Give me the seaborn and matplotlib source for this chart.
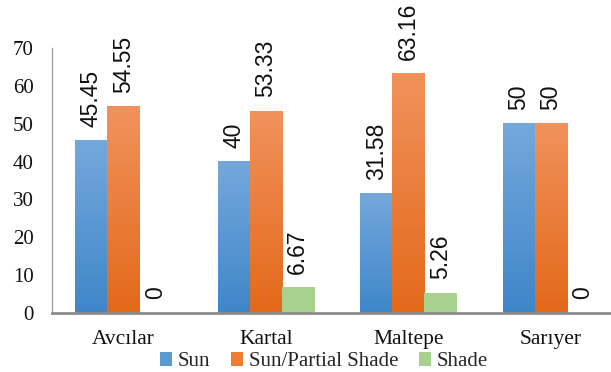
import numpy as np
import pandas as pd
import matplotlib
matplotlib.use("Agg")
import matplotlib.pyplot as plt
import seaborn as sns
from matplotlib.colors import LinearSegmentedColormap
from matplotlib.patches import Patch

districts = ["Avcılar", "Kartal", "Maltepe", "Sarıyer"]
series_names = ["Sun", "Sun/Partial Shade", "Shade"]
sun = [45.45, 40, 31.58, 50]
sun_partial = [54.55, 53.33, 63.16, 50]
shade = [0, 6.67, 5.26, 0]
y_ticks = [0, 10, 20, 30, 40, 50, 60, 70]

df = pd.DataFrame({
    "district": districts * 3,
    "exposure": [series_names[0]] * 4 + [series_names[1]] * 4 + [series_names[2]] * 4,
    "value": sun + sun_partial + shade,
})

# top colour, bottom colour for each series
grad = {
    "Sun": ("#74a8dc", "#3f86c9"),
    "Sun/Partial Shade": ("#f1925c", "#e3691a"),
    "Shade": ("#a9d18e", "#a9d18e"),
}
flat = {"Sun": "#5b9bd5", "Sun/Partial Shade": "#ed7d31", "Shade": "#a9d18e"}

sns.set_theme(style="white")
plt.rcParams["font.family"] = ["Liberation Serif", "DejaVu Serif"]

fig = plt.figure(figsize=(6.11, 3.72), dpi=100)
ax = fig.add_axes([0.0851, 0.1586, 0.933, 0.7125])

sns.barplot(data=df, x="district", y="value", hue="exposure",
            hue_order=series_names, palette=flat, width=0.675,
            legend=False, ax=ax, saturation=1)

# vertical gradient fills on each bar
for cont, name in zip(ax.containers, series_names):
    cmap = LinearSegmentedColormap.from_list(name, [grad[name][1], grad[name][0]])
    g = np.linspace(0, 1, 256).reshape(-1, 1)
    for p in cont.patches:
        x0, y0 = p.get_x(), p.get_y()
        w, h = p.get_width(), p.get_height()
        if h > 0:
            ax.imshow(g, extent=[x0, x0 + w, y0, y0 + h], origin="lower",
                      cmap=cmap, aspect="auto", zorder=2, interpolation="bilinear")
        p.set_facecolor("none")
        p.set_edgecolor("none")
    ax.bar_label(cont, labels=[f"{v:g}" for v in cont.datavalues],
                 rotation=90, padding=10, fontsize=16.5,
                 family=["Liberation Sans", "DejaVu Sans"], color="#111111")

ax.set_xlim(-0.5, 3.5)
ax.set_ylim(0, 70)
ax.set_yticks(y_ticks)
ax.set_xlabel("")
ax.set_ylabel("")
ax.tick_params(axis="both", length=0, colors="#111111")
ax.tick_params(axis="y", pad=13, labelsize=15)
ax.tick_params(axis="x", pad=12, labelsize=15.5)

for s in ["top", "right"]:
    ax.spines[s].set_visible(False)
ax.spines["left"].set_color("#a6a6a6")
ax.spines["left"].set_linewidth(1.0)
ax.spines["bottom"].set_color("#8c8c8c")
ax.spines["bottom"].set_linewidth(2.0)

handles = [Patch(facecolor=flat[n], edgecolor="none") for n in series_names]
fig.legend(handles, series_names, loc="center", bbox_to_anchor=(0.53, 0.027),
           ncol=3, frameon=False, fontsize=15, handlelength=0.6, handleheight=0.6,
           handletextpad=0.25, columnspacing=1.0, borderaxespad=0)

fig.savefig("out.png", dpi=100)
